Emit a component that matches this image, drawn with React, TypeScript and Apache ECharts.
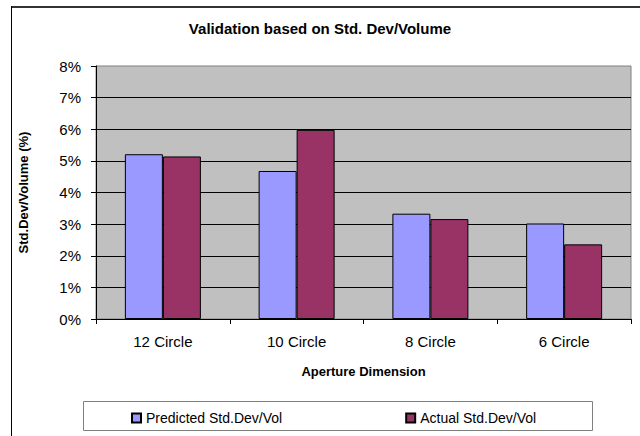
import React, { useEffect, useRef } from "react";
import * as echarts from "echarts";

const categories = ["12 Circle", "10 Circle", "8 Circle", "6 Circle"];
const predicted = [5.21, 4.68, 3.33, 3.02];
const actual = [5.14, 5.98, 3.16, 2.36];
const seriesNames = ["Predicted Std.Dev/Vol", "Actual Std.Dev/Vol"];
const FONT = "'Liberation Sans', Arial, sans-serif";

export default function App() {
  const ref = useRef<HTMLDivElement>(null);
  useEffect(() => {
    if (!ref.current) return;
    const chart = echarts.init(ref.current, null, { renderer: "svg" });
    chart.setOption({
      animation: false,
      backgroundColor: "#ffffff",
      title: {
        text: "Validation based on Std. Dev/Volume",
        left: "center",
        top: 16,
        textStyle: { fontFamily: FONT, fontSize: 15, fontWeight: "bold", color: "#000" },
      },
      grid: {
        left: 96,
        top: 66,
        right: 9,
        bottom: 117,
        show: true,
        backgroundColor: "#C0C0C0",
        borderColor: "#808080",
        borderWidth: 1,
      },
      legend: {
        left: 131,
        top: 411,
        padding: 0,
        itemWidth: 9,
        itemHeight: 9,
        itemGap: 123,
        icon: "rect",
        data: seriesNames,
        textStyle: { fontFamily: FONT, fontSize: 14, color: "#000" },
      },
      xAxis: {
        type: "category",
        data: categories,
        name: "Aperture Dimension",
        nameLocation: "middle",
        nameGap: 46,
        nameTextStyle: { fontFamily: FONT, fontSize: 13, fontWeight: "bold", color: "#000" },
        axisLine: { lineStyle: { color: "#000", width: 1 } },
        axisTick: { show: true, length: 5, lineStyle: { color: "#000" } },
        axisLabel: { fontFamily: FONT, fontSize: 15, color: "#000", margin: 15 },
      },
      yAxis: {
        type: "value",
        min: 0,
        max: 8,
        interval: 1,
        name: "Std.Dev/Volume (%)",
        nameLocation: "middle",
        nameRotate: 90,
        nameGap: 66,
        nameTextStyle: { fontFamily: FONT, fontSize: 13, fontWeight: "bold", color: "#000" },
        axisLine: { show: true, lineStyle: { color: "#000", width: 1 } },
        axisTick: { show: true, length: 5, lineStyle: { color: "#000" } },
        axisLabel: { fontFamily: FONT, fontSize: 15, color: "#000", margin: 15, formatter: "{value}%" },
        splitLine: { show: true, showMaxLine: false, lineStyle: { color: "#000", width: 1 } },
      },
      series: [
        {
          name: seriesNames[0],
          type: "bar",
          data: predicted,
          barWidth: 38,
          barGap: "0%",
          itemStyle: { color: "#9999FF", borderColor: "#000", borderWidth: 1 },
        },
        {
          name: seriesNames[1],
          type: "bar",
          data: actual,
          barWidth: 38,
          barGap: "0%",
          itemStyle: { color: "#993366", borderColor: "#000", borderWidth: 1 },
        },
      ],
      graphic: [
        {
          type: "rect",
          z: -1,
          shape: { x: 83.5, y: 401.5, width: 509, height: 29 },
          style: { fill: "#fff", stroke: "#808080", lineWidth: 1 },
        },
        {
          type: "line",
          shape: { x1: 11, y1: 7, x2: 640, y2: 7 },
          style: { stroke: "#333", lineWidth: 2 },
        },
        {
          type: "line",
          shape: { x1: 11.5, y1: 6, x2: 11.5, y2: 436 },
          style: { stroke: "#000", lineWidth: 1 },
        },
      ],
    });
    return () => chart.dispose();
  }, []);
  return <div ref={ref} style={{ width: 640, height: 436, position: "fixed", left: 0, top: 0 }} />;
}
